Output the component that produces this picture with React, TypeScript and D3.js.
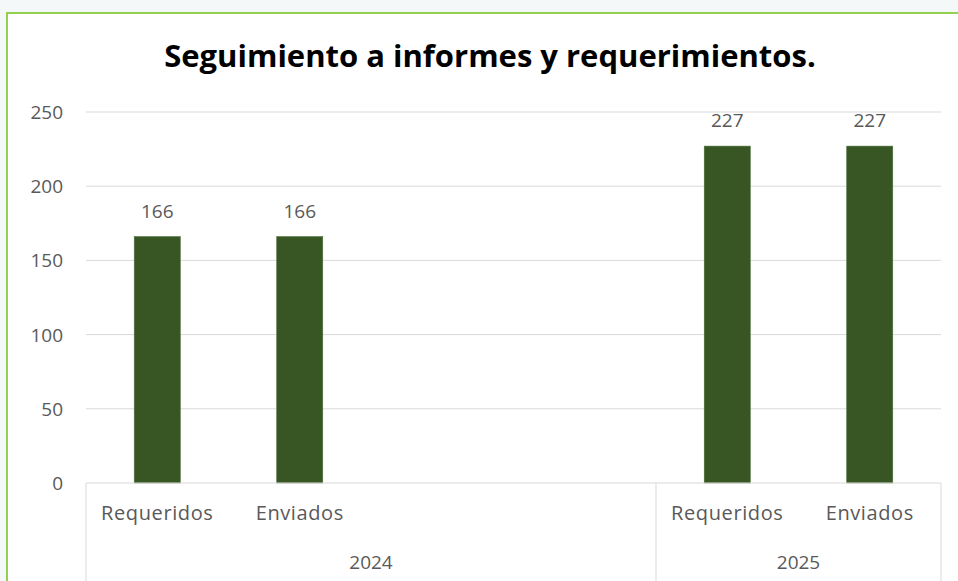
import { useEffect, useRef } from 'react'
import * as d3 from 'd3'

// Excel-style multi-level category axis: 2024 has two unused slots
const years = ['2024', '2024', '2024', '2024', '2025', '2025']
const subLabels = ['Requeridos', 'Enviados', '', '', 'Requeridos', 'Enviados']
const values: (number | null)[] = [166, 166, null, null, 227, 227]
const yTicks = [0, 50, 100, 150, 200, 250]
const title = 'Seguimiento a informes y requerimientos.'

const App = () => {
    const ref = useRef<SVGSVGElement | null>(null)

    useEffect(() => {
        if (!ref.current) return
        const width = 958
        const height = 581
        const left = 86
        const right = 941
        const top = 112
        const bottom = 483
        const font = '"Open Sans", "Noto Sans", sans-serif'
        const textColor = '#595959'
        const gridColor = '#d9d9d9'

        const svg = d3.select(ref.current)
        svg.selectAll('*').remove()
        svg.attr('width', width).attr('height', height)

        // page background + framed chart area
        svg.append('rect').attr('width', width).attr('height', height).attr('fill', '#f5f8f8')
        svg.append('rect')
            .attr('x', 7).attr('y', 13)
            .attr('width', width - 7).attr('height', height - 13)
            .attr('fill', '#fff')
        svg.append('path')
            .attr('d', `M7,${height} V13 H${width}`)
            .attr('fill', 'none')
            .attr('stroke', '#92d050')
            .attr('stroke-width', 2)

        const idx = values.map((_, i) => i.toString())
        const x = d3.scaleBand()
            .domain(idx)
            .range([left, right])
            .paddingInner(0.677)
            .paddingOuter(0.677 / 2)
        const y = d3.scaleLinear().domain([0, 250]).range([bottom, top])

        // gridlines
        svg.append('g')
            .selectAll('line')
            .data(yTicks.filter(t => t > 0))
            .join('line')
            .attr('x1', left).attr('x2', right)
            .attr('y1', d => y(d)).attr('y2', d => y(d))
            .attr('stroke', gridColor)

        // y tick labels
        svg.append('g')
            .selectAll('text')
            .data(yTicks)
            .join('text')
            .attr('x', 63)
            .attr('y', d => y(d) + 7)
            .attr('text-anchor', 'end')
            .attr('font-family', font)
            .attr('font-size', 19)
            .attr('fill', textColor)
            .text(d => d)

        // bars
        const step = x.step()
        const bars = values.map((v, i) => ({ v, i })).filter(d => d.v !== null) as { v: number; i: number }[]
        svg.append('g')
            .selectAll('rect')
            .data(bars)
            .join('rect')
            .attr('x', d => x(d.i.toString())!)
            .attr('y', d => y(d.v))
            .attr('width', x.bandwidth())
            .attr('height', d => bottom - y(d.v))
            .attr('fill', '#375623')
            .attr('stroke', '#4a6a35')
            .attr('stroke-width', 0.6)

        // data labels
        svg.append('g')
            .selectAll('text')
            .data(bars)
            .join('text')
            .attr('x', d => x(d.i.toString())! + x.bandwidth() / 2)
            .attr('y', d => y(d.v) - 19)
            .attr('text-anchor', 'middle')
            .attr('font-family', font)
            .attr('font-size', 19)
            .attr('fill', textColor)
            .text(d => d.v)

        // category axis
        svg.append('line')
            .attr('x1', left).attr('x2', right)
            .attr('y1', bottom).attr('y2', bottom)
            .attr('stroke', gridColor)

        svg.append('g')
            .selectAll('text')
            .data(subLabels.map((s, i) => ({ s, i })).filter(d => d.s))
            .join('text')
            .attr('x', d => x(d.i.toString())! + x.bandwidth() / 2)
            .attr('y', 520)
            .attr('text-anchor', 'middle')
            .attr('font-family', font)
            .attr('font-size', 20)
            .attr('letter-spacing', 0.6)
            .attr('fill', textColor)
            .text(d => d.s)

        // year groups
        const groups = d3.groups(years.map((yr, i) => ({ yr, i })), d => d.yr)
        const edges = [left]
        groups.forEach(([yr, items]) => {
            const first = items[0].i
            const last = items[items.length - 1].i
            const x0 = x(first.toString())! - (step - x.bandwidth()) / 2
            const x1 = x(last.toString())! + x.bandwidth() + (step - x.bandwidth()) / 2
            edges.push(x1)
            svg.append('text')
                .attr('x', (x0 + x1) / 2)
                .attr('y', 569)
                .attr('text-anchor', 'middle')
                .attr('font-family', font)
                .attr('font-size', 19)
                .attr('fill', textColor)
                .text(yr)
        })
        svg.append('g')
            .selectAll('line')
            .data(edges)
            .join('line')
            .attr('x1', d => d).attr('x2', d => d)
            .attr('y1', bottom).attr('y2', height)
            .attr('stroke', gridColor)

        // title
        svg.append('text')
            .attr('x', 490)
            .attr('y', 67)
            .attr('text-anchor', 'middle')
            .attr('font-family', font)
            .attr('font-weight', 'bold')
            .attr('font-size', 31)
            .attr('fill', '#000')
            .text(title)
    }, [])

    return (
        <div>
            <svg ref={ref} style={{ position: 'absolute', left: 0, top: 0 }}></svg>
        </div>
    )
}

export default App
